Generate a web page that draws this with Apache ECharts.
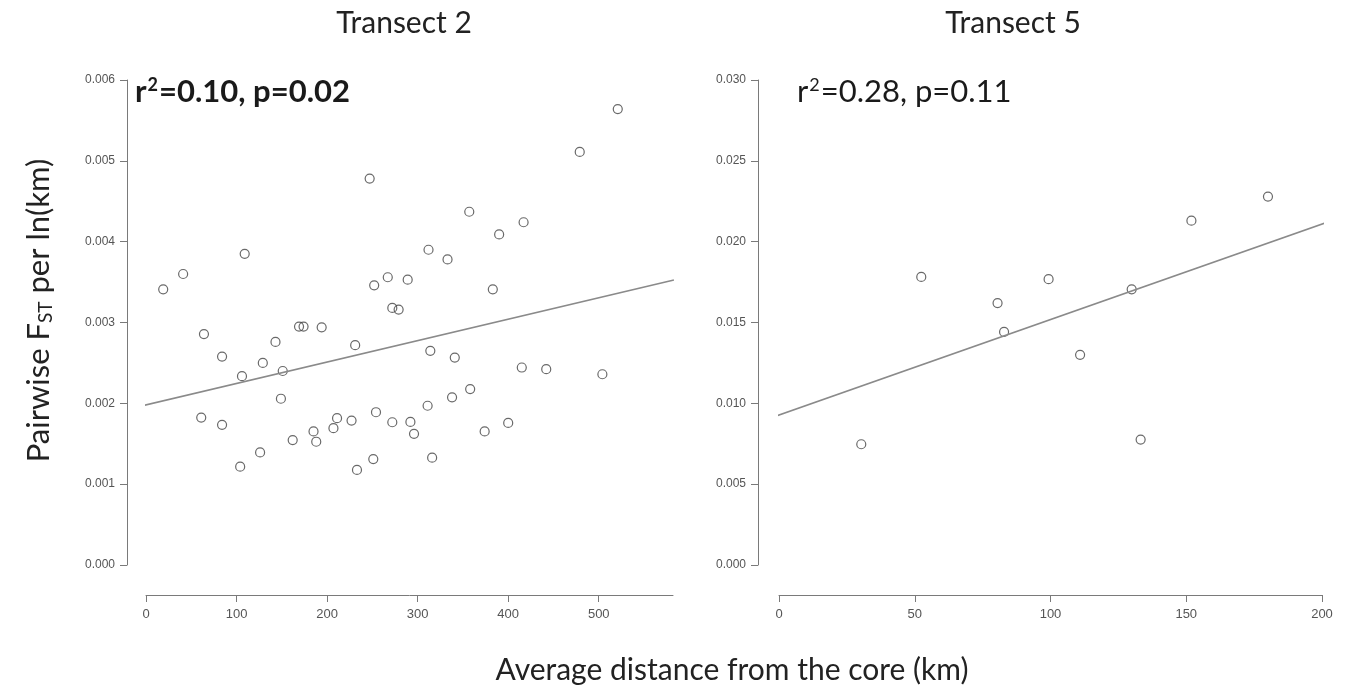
<!DOCTYPE html>
<html>
<head>
<meta charset="utf-8">
<script src="https://cdn.jsdelivr.net/npm/echarts@6/dist/echarts.min.js"></script>
<style>
  html, body { margin: 0; padding: 0; background: #fff; }
  #chart { width: 1358px; height: 698px; }
</style>
</head>
<body>
<div id="chart"></div>
<script>
  // Transect 2: distance (km) and pairwise Fst per ln(km)
  var t2Dist = [521, 479, 247, 357, 417, 390, 312, 109, 333, 41, 267, 289, 252, 19, 383, 272, 279,
    169, 174, 194, 64, 143, 231, 84, 314, 341, 129, 415, 442, 106, 151, 504, 358, 149, 338, 311,
    254, 61, 211, 227, 272, 292, 400, 84, 207, 185, 374, 296, 162, 188, 126, 251, 316, 104, 233]
  var t2Fst = [0.00564, 0.00511, 0.00478, 0.00437, 0.00424, 0.00409, 0.00390, 0.00385, 0.00378, 0.00360,
    0.00356, 0.00353, 0.00346, 0.00341, 0.00341, 0.00318, 0.00316, 0.00295, 0.00295, 0.00294,
    0.002857, 0.00276, 0.00272, 0.002578, 0.00265, 0.002566, 0.00250, 0.002443, 0.002422, 0.002336,
    0.00240, 0.00236, 0.002176, 0.002057, 0.002074, 0.00197, 0.00189, 0.001824, 0.001816, 0.001787,
    0.001766, 0.00177, 0.001758, 0.001734, 0.001693, 0.001652, 0.001652, 0.001623, 0.001545, 0.001525,
    0.001393, 0.001311, 0.001328, 0.001217, 0.001176]
  // fitted line ends
  var t2FitX = [-23, 583]
  var t2FitY = [0.00192, 0.003526]

  // Transect 5
  var t5Dist = [30.3, 52.4, 80.5, 82.9, 99.3, 110.9, 129.9, 133.2, 151.9, 180.1]
  var t5Fst = [0.00747, 0.01782, 0.0162, 0.01442, 0.01768, 0.0130, 0.01705, 0.00776, 0.0213, 0.02279]
  var t5FitX = [-7.2, 208]
  var t5FitY = [0.00885, 0.02156]

  // tick labels
  var t2XTicks = [0, 100, 200, 300, 400, 500]
  var t5XTicks = [0, 50, 100, 150, 200]

  var gray = '#7a7a7a'
  var labelFont = 'Liberation Sans'
  var textFont = 'Lato'

  function pairs(xs, ys) {
    return xs.map(function (x, i) { return [x, ys[i]] })
  }

  function xAx(idx, max, ticks) {
    return {
      type: 'value', gridIndex: idx, min: 0, max: max, offset: 30,
      splitLine: {show: false},
      axisLine: {onZero: false, lineStyle: {color: gray, width: 1}},
      axisTick: {length: 7, lineStyle: {color: gray}, customValues: ticks},
      axisLabel: {customValues: ticks, color: '#555', fontSize: 13, fontFamily: labelFont, margin: 13}
    }
  }

  function yAx(idx, max, interval, off) {
    return {
      type: 'value', gridIndex: idx, min: 0, max: max, interval: interval, offset: off,
      splitLine: {show: false},
      axisLine: {show: true, onZero: false, lineStyle: {color: gray, width: 1}},
      axisTick: {show: true, length: 7, lineStyle: {color: gray}},
      axisLabel: {
        color: '#555', fontSize: 12, fontFamily: labelFont, margin: 12,
        formatter: function (v) { return v.toFixed(3) }
      }
    }
  }

  function stat(txt, weight) {
    // r^2 with a real superscript
    return {
      text: '{t|r}{s|2}{t|' + txt + '}', padding: 0,
      textStyle: {
        rich: {
          t: {fontFamily: textFont, fontWeight: weight, fontSize: 31, color: '#1a1a1a'},
          s: {fontFamily: textFont, fontWeight: weight, fontSize: 18, color: '#1a1a1a', verticalAlign: 'top', padding: [0, 1, 0, 1]}
        }
      }
    }
  }

  var pointStyle = {color: 'rgba(0,0,0,0)', borderColor: '#444', borderWidth: 1.2}
  var fitStyle = {color: '#8a8a8a', width: 1.5}

  var option = {
    animation: false,
    title: [
      {text: 'Transect 2', left: 404, top: 8, textAlign: 'center', padding: 0,
        textStyle: {fontFamily: textFont, fontWeight: 'normal', fontSize: 30, color: '#222'}},
      {text: 'Transect 5', left: 1013, top: 8, textAlign: 'center', padding: 0,
        textStyle: {fontFamily: textFont, fontWeight: 'normal', fontSize: 30, color: '#222'}},
      Object.assign(stat('=0.10, p=0.02', 'bold'), {left: 135, top: 76}),
      Object.assign(stat('=0.28, p=0.11', 'normal'), {left: 797, top: 76}),
      {text: 'Average distance from the core (km)', left: 732, top: 655, textAlign: 'center', padding: 0,
        textStyle: {fontFamily: textFont, fontWeight: 'normal', fontSize: 30, color: '#222'}}
    ],
    grid: [
      {left: 146, top: 80, width: 527, height: 485},
      {left: 779, top: 80, width: 543, height: 485}
    ],
    xAxis: [xAx(0, 582, t2XTicks), xAx(1, 200, t5XTicks)],
    yAxis: [
      Object.assign(yAx(0, 0.006, 0.001, 19), {
        name: 'Pairwise F{sub|ST} per ln(km)',
        nameLocation: 'middle', nameGap: 72, nameRotate: 90,
        nameTextStyle: {
          fontFamily: textFont, fontSize: 31, color: '#222', padding: [0, 0, 0, 24],
          rich: {sub: {fontFamily: textFont, fontSize: 19, color: '#222', verticalAlign: 'bottom', padding: [13, 0, 0, 0]}}
        }
      }),
      yAx(1, 0.03, 0.005, 21)
    ],
    series: [
      {type: 'scatter', xAxisIndex: 0, yAxisIndex: 0, symbol: 'circle', symbolSize: 9,
        itemStyle: pointStyle, data: pairs(t2Dist, t2Fst)},
      {type: 'line', xAxisIndex: 0, yAxisIndex: 0, symbol: 'none', clip: false,
        lineStyle: fitStyle, data: pairs(t2FitX, t2FitY)},
      {type: 'scatter', xAxisIndex: 1, yAxisIndex: 1, symbol: 'circle', symbolSize: 9,
        itemStyle: pointStyle, data: pairs(t5Dist, t5Fst)},
      {type: 'line', xAxisIndex: 1, yAxisIndex: 1, symbol: 'none', clip: false,
        lineStyle: fitStyle, data: pairs(t5FitX, t5FitY)}
    ]
  }

  echarts.init(document.getElementById('chart')).setOption(option)
</script>
</body>
</html>
